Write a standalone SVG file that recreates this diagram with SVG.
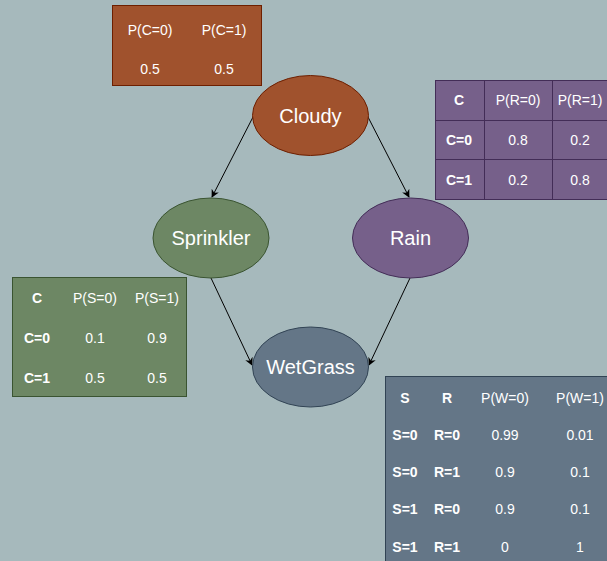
<svg xmlns="http://www.w3.org/2000/svg" width="607" height="561" viewBox="0 0 607 561">
<defs>
<style>
text{font-family:"Liberation Sans",Arial,sans-serif;fill:#fff;text-anchor:middle;dominant-baseline:central}
.t{font-size:14px}
.b{font-weight:bold}
.n{font-size:20px}
.e{stroke:#000;stroke-width:1;fill:none;marker-end:url(#ah)}
</style>
<marker id="ah" viewBox="0 0 10 10" refX="9" refY="5" markerWidth="8" markerHeight="8" markerUnits="userSpaceOnUse" orient="auto">
<path d="M0,0 L10,5 L0,10 L3,5 Z" fill="#000"/>
</marker>
</defs>
<rect width="607" height="561" fill="#a6b9bc"/>
<g id="edges">
<line class="e" x1="253" y1="117" x2="212" y2="197"/>
<line class="e" x1="368" y1="117" x2="409" y2="197"/>
<line class="e" x1="211" y1="278" x2="252" y2="365"/>
<line class="e" x1="410" y1="278" x2="369" y2="365"/>
</g>
<g id="cpt-cloudy">
<rect x="112.5" y="5.5" width="149" height="80" fill="#a0522d" stroke="#6d1f00"/>
<text class="t" x="150" y="30">P(C=0)</text>
<text class="t" x="224" y="30">P(C=1)</text>
<text class="t" x="150" y="69">0.5</text>
<text class="t" x="224" y="69">0.5</text>
</g>
<g id="cpt-rain">
<rect x="435.5" y="80.5" width="175" height="119" fill="#76608a" stroke="#432d57"/>
<path d="M484.5 80.5V199.5M552.5 80.5V199.5M435.5 120.5H607M435.5 159.5H607" stroke="#432d57" fill="none"/>
<text class="t b" x="459" y="100">C</text>
<text class="t" x="518" y="100">P(R=0)</text>
<text class="t" x="580" y="100">P(R=1)</text>
<text class="t b" x="459" y="140">C=0</text>
<text class="t" x="518" y="140">0.8</text>
<text class="t" x="580" y="140">0.2</text>
<text class="t b" x="459" y="180">C=1</text>
<text class="t" x="518" y="180">0.2</text>
<text class="t" x="580" y="180">0.8</text>
</g>
<g id="cpt-sprinkler">
<rect x="12.5" y="277.5" width="174" height="119" fill="#6d8764" stroke="#3a5431"/>
<text class="t b" x="37" y="298">C</text>
<text class="t" x="95" y="298">P(S=0)</text>
<text class="t" x="157" y="298">P(S=1)</text>
<text class="t b" x="37" y="338">C=0</text>
<text class="t" x="95" y="338">0.1</text>
<text class="t" x="157" y="338">0.9</text>
<text class="t b" x="37" y="378">C=1</text>
<text class="t" x="95" y="378">0.5</text>
<text class="t" x="157" y="378">0.5</text>
</g>
<g id="cpt-wetgrass">
<rect x="385.5" y="376.5" width="225" height="190" fill="#647687" stroke="#314354"/>
<text class="t b" x="405" y="398">S</text>
<text class="t b" x="447" y="398">R</text>
<text class="t" x="505" y="398">P(W=0)</text>
<text class="t" x="580" y="398">P(W=1)</text>
<text class="t b" x="405" y="435">S=0</text>
<text class="t b" x="447" y="435">R=0</text>
<text class="t" x="505" y="435">0.99</text>
<text class="t" x="580" y="435">0.01</text>
<text class="t b" x="405" y="472">S=0</text>
<text class="t b" x="447" y="472">R=1</text>
<text class="t" x="505" y="472">0.9</text>
<text class="t" x="580" y="472">0.1</text>
<text class="t b" x="405" y="509">S=1</text>
<text class="t b" x="447" y="509">R=0</text>
<text class="t" x="505" y="509">0.9</text>
<text class="t" x="580" y="509">0.1</text>
<text class="t b" x="405" y="547">S=1</text>
<text class="t b" x="447" y="547">R=1</text>
<text class="t" x="505" y="547">0</text>
<text class="t" x="580" y="547">1</text>
</g>
<g id="cloudy">
<ellipse cx="310.5" cy="115.5" rx="58" ry="40" fill="#a0522d" stroke="#6d1f00"/>
<text class="n" x="310.5" y="116">Cloudy</text>
</g>
<g id="sprinkler">
<ellipse cx="211" cy="238" rx="58" ry="40" fill="#6d8764" stroke="#3a5431"/>
<text class="n" x="211" y="238">Sprinkler</text>
</g>
<g id="rain">
<ellipse cx="410.5" cy="238" rx="58" ry="40" fill="#76608a" stroke="#432d57"/>
<text class="n" x="410.5" y="238">Rain</text>
</g>
<g id="wetgrass">
<ellipse cx="310.5" cy="367" rx="58" ry="40" fill="#647687" stroke="#314354"/>
<text class="n" x="310.5" y="367">WetGrass</text>
</g>
</svg>
